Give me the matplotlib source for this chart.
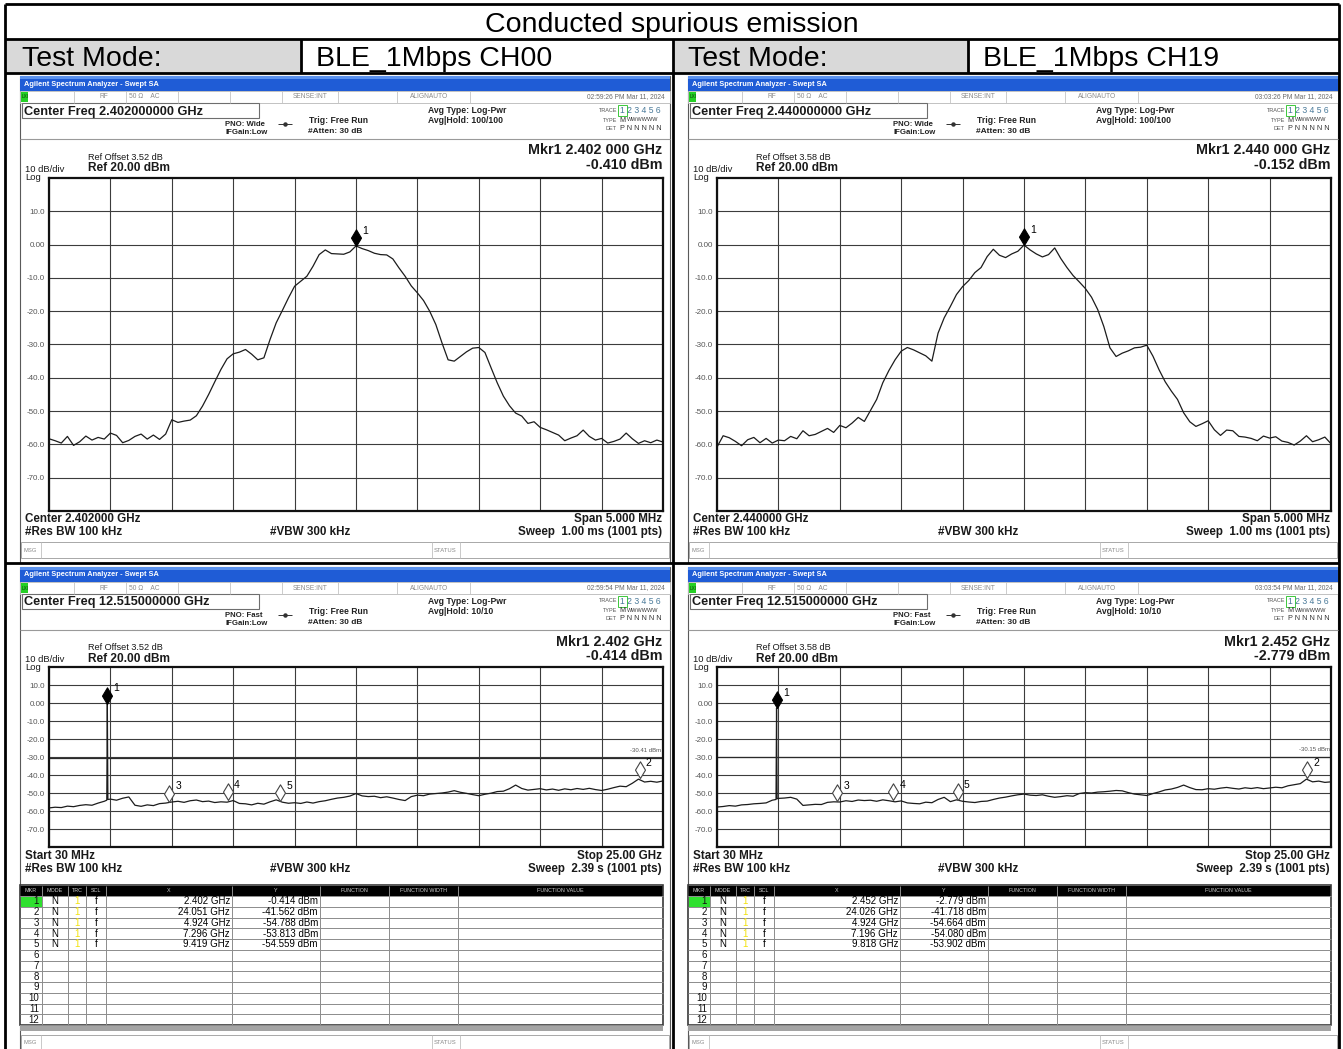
import numpy as np
import matplotlib.pyplot as plt
from matplotlib.patches import Rectangle
from matplotlib.path import Path

W, H = 1343, 1049
plt.rcParams['font.family'] = ['Liberation Sans', 'DejaVu Sans']

# --- measured traces -------------------------------------------------------
# zoomed sweeps: 5 MHz span, 101 points, level in dBm
ch00_zoom_dbm = [
    -58.3, -58.9, -59.6, -57.6, -60.3, -59.2, -57.5, -58.7, -57.9, -58.4,
    -56.6, -57.3, -59.5, -58.8, -57.6, -56.9, -58.4, -57.2, -58.5, -56.9,
    -52.6, -53.4, -53.0, -52.7, -51.4, -48.5, -45.0, -41.2, -37.5, -34.3,
    -32.8, -32.3, -31.5, -32.9, -34.6, -34.0, -28.5, -23.5, -19.8, -16.0,
    -12.5, -11.0, -9.5, -6.5, -3.0, -1.6, -2.7, -2.8, -2.9, -2.2,
    -0.41, -1.2, -1.8, -2.6, -3.0, -3.1, -4.3, -7.0, -9.5, -12.4,
    -14.5, -16.8, -20.0, -24.0, -29.5, -34.6, -35.0, -33.6, -32.2, -31.1,
    -30.9, -32.4, -37.0, -41.5, -45.5, -48.4, -50.6, -51.5, -53.7, -53.2,
    -54.9, -55.6, -56.4, -57.2, -58.9, -58.1, -57.4, -55.7, -57.6, -58.7,
    -58.2, -59.6, -59.1, -58.4, -56.6, -58.3, -59.7, -58.9, -59.5, -58.7,
    -59.3]
ch19_zoom_dbm = [
    -60.8, -57.4, -58.0, -59.1, -60.4, -58.6, -57.9, -59.5, -58.2, -59.6,
    -58.7, -58.9, -57.6, -58.3, -55.9, -57.4, -57.0, -56.1, -55.2, -56.4,
    -54.3, -55.0, -53.6, -51.9, -53.1, -49.8, -46.5, -41.5, -37.8, -34.6,
    -32.0, -30.9, -31.6, -32.5, -33.4, -35.0, -26.6, -22.0, -18.6, -15.0,
    -12.6, -10.8, -8.4, -6.9, -3.6, -1.4, -3.2, -3.9, -2.8, -2.0,
    -0.15, -1.6, -2.8, -3.7, -3.0, -1.0, -4.2, -6.9, -9.3, -11.2,
    -13.2, -15.8, -19.5, -24.6, -31.0, -33.6, -32.6, -31.9, -31.0, -30.8,
    -30.2, -33.5, -37.6, -41.2, -44.0, -46.5, -50.5, -53.2, -54.6, -53.8,
    -52.9, -55.6, -57.3, -55.7, -55.9, -57.6, -57.8, -58.2, -58.9, -57.5,
    -58.1, -57.7, -59.0, -59.4, -60.2, -59.0, -57.4, -59.2, -58.6, -57.8,
    -59.8]

# wide sweeps: 30 MHz .. 25 GHz, 101 points, level in dBm
ch00_wide_dbm = [
    -58.3, -57.9, -58.1, -57.3, -57.6, -56.9, -56.5, -56.8, -55.6, -54.6,
    -53.4, -54.0, -52.9, -52.2, -56.8, -57.4, -56.6, -57.0, -55.9, -55.6,
    -55.0, -54.6, -55.2, -54.3, -53.9, -54.8, -54.5, -55.3, -54.9, -55.1,
    -54.2, -55.8, -56.0, -56.6, -55.7, -56.2, -54.9, -53.8, -55.1, -55.7,
    -55.4, -55.8, -55.0, -55.6, -54.8, -54.3, -53.5, -52.8, -52.4, -51.7,
    -50.3, -51.6, -52.0, -51.8, -52.6, -52.1, -52.8, -53.6, -54.2, -52.0,
    -51.2, -51.5, -50.6, -50.3, -50.0, -49.5, -48.7, -49.6, -50.2, -50.9,
    -51.5, -50.7, -50.1, -49.2, -49.0, -47.6, -45.6, -47.5, -48.4, -48.0,
    -47.6, -48.3, -47.8, -48.5, -47.7, -48.2, -47.5, -48.0, -47.4, -48.1,
    -48.6, -47.9, -47.0, -46.2, -46.5, -44.6, -42.3, -43.9, -43.5, -44.0,
    -43.3]
ch19_wide_dbm = [
    -57.8, -57.5, -57.0, -57.3, -56.6, -56.4, -56.0, -55.8, -55.5, -54.0,
    -53.0, -52.8, -52.4, -53.4, -56.9, -56.6, -56.3, -56.4, -55.2, -54.9,
    -55.0, -54.3, -54.7, -53.9, -54.2, -54.0, -54.6, -53.8, -54.3, -54.9,
    -54.4, -55.5, -55.8, -56.0, -55.1, -55.4, -53.6, -52.4, -54.8, -53.8,
    -54.6, -55.0, -55.3, -54.7, -54.5, -53.6, -52.8, -52.3, -51.6, -51.0,
    -50.6, -51.2, -51.4, -51.0, -51.8, -52.4, -52.0, -51.5, -51.8, -50.3,
    -49.8, -50.0, -49.5, -49.3, -49.0, -48.6, -48.8, -49.8, -50.6, -51.0,
    -51.4, -50.3, -49.4, -48.3, -47.8, -46.9, -45.6, -47.0, -48.1, -48.2,
    -47.6, -47.9, -47.3, -46.9, -47.4, -47.8, -47.1, -47.5, -47.0, -47.6,
    -47.2, -46.8, -47.1, -46.0, -45.4, -44.8, -42.3, -43.8, -43.4, -44.1,
    -43.8]

# carrier spike on the wide sweeps (GHz, dBm)
ch00_spike_ghz = [2.380, 2.402, 2.425]
ch00_spike_dbm = [-54.0, -0.414, -53.6]
ch19_spike_ghz = [2.430, 2.452, 2.475]
ch19_spike_dbm = [-53.6, -2.779, -53.2]

# marker 1 on the zoomed sweeps
ch00_peak_dbm = -0.410
ch19_peak_dbm = -0.152

# marker tables of the wide sweeps
ch00_mkr_ghz = [2.402, 24.051, 4.924, 7.296, 9.419]
ch00_mkr_dbm = [-0.414, -41.562, -54.788, -53.813, -54.559]
ch19_mkr_ghz = [2.452, 24.026, 4.924, 7.196, 9.818]
ch19_mkr_dbm = [-2.779, -41.718, -54.664, -54.080, -53.902]

# -30 dBc display lines
ch00_dl = -30.41
ch19_dl = -30.15

level_ticks = [10, 0, -10, -20, -30, -40, -50, -60, -70]
level_labels = ['10.0', '0.00', '-10.0', '-20.0', '-30.0', '-40.0', '-50.0', '-60.0', '-70.0']

# --- canvas ---------------------------------------------------------------
fig = plt.figure(figsize=(W / 100, H / 100), dpi=100)
base = fig.add_axes([0, 0, 1, 1])
base.set_xlim(0, W)
base.set_ylim(H, 0)
base.axis('off')


def txt(x, y, s, size, ha='left', weight='normal', color='black', va='center'):
    base.text(x, y, s, fontsize=size, ha=ha, va=va, fontweight=weight, color=color)


def box(x0, y0, x1, y1, fc='none', ec='none', lw=1.0):
    base.add_patch(Rectangle((x0, y0), x1 - x0, y1 - y0, facecolor=fc,
                             edgecolor=ec, linewidth=lw))


def seg(x0, y0, x1, y1, color='black', lw=1.0):
    base.plot([x0, x1], [y0, y1], color=color, lw=lw, solid_capstyle='butt')


# marker glyph: diamond standing on its lower tip
DIAMOND = Path([(0, 0), (0.6, 1), (0, 2), (-0.6, 1), (0, 0)],
               [Path.MOVETO, Path.LINETO, Path.LINETO, Path.LINETO, Path.CLOSEPOLY])


def spectrum_axes(x0, y0, x1, y1, xlo, xhi):
    ax = fig.add_axes([x0 / W, 1 - y1 / H, (x1 - x0) / W, (y1 - y0) / H])
    ax.set_xlim(xlo, xhi)
    ax.set_ylim(-80, 20)
    ax.set_xticks(np.linspace(xlo, xhi, 11))
    ax.set_yticks(level_ticks)
    ax.set_yticklabels(level_labels)
    ax.tick_params(axis='x', length=0, labelbottom=False)
    ax.tick_params(axis='y', length=0, pad=3, labelsize=5.8, labelcolor='#555555')
    ax.grid(True, color='#3c3c3c', lw=0.8)
    ax.set_axisbelow(True)
    for sp in ax.spines.values():
        sp.set_linewidth(1.6)
        sp.set_color('#111111')
    return ax


def put_marker(ax, x, y, n, filled=True):
    ax.plot([x], [y], marker=DIAMOND, ms=24, ls='none', clip_on=False, zorder=6,
            mfc='black' if filled else 'white', mec='black' if filled else '#444444',
            mew=0.8)
    ax.annotate(str(n), (x, y), xytext=(4.5, 11), textcoords='offset points',
                fontsize=7.5, ha='left', va='center', zorder=7)


def header(ox, oy, clock, center, pno, hold, mkr_f, mkr_v, offset):
    # window title bar
    box(ox, oy, ox + 650, oy + 15, fc='#1f5cd6')
    box(ox, oy, ox + 650, oy + 3, fc='#5b92ee')
    txt(ox + 4, oy + 8, 'Agilent Spectrum Analyzer - Swept SA', 5.3, weight='bold', color='white')
    # status strip
    ys = oy + 21
    box(ox, oy + 15, ox + 650, oy + 27, fc='white', ec='#b8b8b8', lw=0.6)
    box(ox + 1, oy + 16, ox + 8, oy + 26, fc='#25d025')
    txt(ox + 1.5, ys, 'LXI', 3.3, color='#0b3a0b')
    for sx in (54, 106, 158, 210, 262, 318, 377, 450):
        seg(ox + sx, oy + 15, ox + sx, oy + 27, color='#c4c4c4', lw=0.6)
    txt(ox + 80, ys, 'RF', 4.8, color='#8a8a8a')
    txt(ox + 109, ys, '50 Ω    AC', 4.8, color='#8a8a8a')
    txt(ox + 290, ys, 'SENSE:INT', 4.8, ha='center', color='#8a8a8a')
    txt(ox + 409, ys, 'ALIGNAUTO', 4.8, ha='center', color='#8a8a8a')
    txt(ox + 645, ys, clock, 4.8, ha='right', color='#6a6a6a')
    # centre frequency entry
    box(ox + 2, oy + 27, ox + 239, oy + 42, fc='white', ec='#6e6e6e', lw=0.8)
    txt(ox + 4, oy + 35.5, 'Center Freq ' + center + ' GHz', 9.2, weight='bold', color='#1a1a1a')
    # acquisition settings
    txt(ox + 205, oy + 48.5, 'PNO: ' + pno, 5.6, weight='bold', color='#222222')
    seg(ox + 258, oy + 48, ox + 272, oy + 48, color='#333333', lw=0.7)
    base.plot([ox + 265], [oy + 48], marker='o', ms=2.2, color='#333333')
    txt(ox + 205, oy + 56.5, 'IFGain:Low', 5.6, weight='bold', color='#222222')
    txt(ox + 289, oy + 44.5, 'Trig: Free Run', 6.2, weight='bold', color='#222222')
    txt(ox + 288, oy + 55.5, '#Atten: 30 dB', 6.0, weight='bold', color='#222222')
    txt(ox + 408, oy + 34.5, 'Avg Type: Log-Pwr', 6.2, weight='bold', color='#222222')
    txt(ox + 408, oy + 44.5, 'Avg|Hold: ' + hold, 6.2, weight='bold', color='#222222')
    txt(ox + 597, oy + 34, 'TRACE', 4.0, ha='right', color='#555555')
    txt(ox + 597, oy + 44, 'TYPE', 4.0, ha='right', color='#555555')
    txt(ox + 597, oy + 52, 'DET', 4.0, ha='right', color='#555555')
    box(ox + 598, oy + 29, ox + 607, oy + 40, ec='#3cc83c', lw=0.7)
    txt(ox + 599.5, oy + 34.5, '1 2 3 4 5 6', 6.2, color='#4a7a9a')
    txt(ox + 599.5, oy + 44, 'M', 5.2, color='#333333')
    txt(ox + 606.5, oy + 43.5, 'WWWWWW', 4.0, color='#333333')
    txt(ox + 599.5, oy + 52, 'P N N N N N', 5.2, color='#333333')
    # measurement panel
    seg(ox, oy + 63, ox + 650, oy + 63, color='#9a9a9a', lw=0.8)
    txt(ox + 642, oy + 74.5, 'Mkr1 ' + mkr_f, 10.3, ha='right', weight='bold', color='#1a1a1a')
    txt(ox + 642, oy + 89, mkr_v, 10.3, ha='right', weight='bold', color='#1a1a1a')
    txt(ox + 68, oy + 81, 'Ref Offset ' + offset + ' dB', 6.6, color='#1a1a1a')
    txt(ox + 68, oy + 92, 'Ref 20.00 dBm', 8.6, weight='bold', color='#1a1a1a')
    txt(ox + 5, oy + 93, '10 dB/div', 6.8, color='#1a1a1a')
    txt(ox + 5, oy + 101, 'Log', 6.8, color='#1a1a1a')


def footer(ox, y, left1, right1, sweep):
    txt(ox + 5, y, left1, 8.4, weight='bold', color='#1a1a1a')
    txt(ox + 642, y, right1, 8.4, ha='right', weight='bold', color='#1a1a1a')
    txt(ox + 5, y + 13, '#Res BW 100 kHz', 8.4, weight='bold', color='#1a1a1a')
    txt(ox + 250, y + 13, '#VBW 300 kHz', 8.4, weight='bold', color='#1a1a1a')
    txt(ox + 642, y + 13, 'Sweep  ' + sweep + ' (1001 pts)', 8.4, ha='right', weight='bold', color='#1a1a1a')


def msg_bar(ox, y0, y1):
    box(ox + 1, y0, ox + 649, y1, fc='white', ec='#a8a8a8', lw=0.7)
    seg(ox + 21, y0, ox + 21, y1, color='#c0c0c0', lw=0.6)
    seg(ox + 412, y0, ox + 412, y1, color='#c0c0c0', lw=0.6)
    seg(ox + 440, y0, ox + 440, y1, color='#c0c0c0', lw=0.6)
    txt(ox + 4, (y0 + y1) / 2, 'MSG', 4.2, color='#888888')
    txt(ox + 414, (y0 + y1) / 2, 'STATUS', 4.2, color='#888888')


tbl_cols = [0, 22, 48, 66, 86, 212, 300, 369, 438, 643]
tbl_heads = ['MKR', 'MODE', 'TRC', 'SCL', 'X', 'Y', 'FUNCTION', 'FUNCTION WIDTH', 'FUNCTION VALUE']


def marker_table(ox, oy, xs, ys):
    top, head_h, row_h = oy + 319, 10, 10.75
    x_at = [ox + c for c in tbl_cols]
    body = top + head_h
    bottom = body + 12 * row_h
    box(x_at[0], top - 1, x_at[-1], bottom, fc='white')
    box(x_at[0], top, x_at[-1], body, fc='black')
    for i, name in enumerate(tbl_heads):
        txt((x_at[i] + x_at[i + 1]) / 2, top + head_h / 2, name, 3.9, ha='center', color='#cfcfcf')
    box(x_at[0] + 1, body + 0.5, x_at[1], body + row_h, fc='#2fe02f')
    for r in range(13):
        seg(x_at[0], body + r * row_h, x_at[-1], body + r * row_h, color='#8c8c8c', lw=0.7)
    for c in x_at[1:-1]:
        seg(c, top, c, bottom, color='#8c8c8c', lw=0.7)
    for r in range(12):
        yc = body + (r + 0.5) * row_h
        txt(x_at[0] + 19, yc, str(r + 1), 7, ha='right', color='#111111')
        if r < len(xs):
            txt((x_at[1] + x_at[2]) / 2, yc, 'N', 7, ha='center')
            txt((x_at[2] + x_at[3]) / 2, yc, '1', 7, ha='center', color='#f2e20a')
            txt((x_at[3] + x_at[4]) / 2, yc, 'f', 7, ha='center')
            txt(x_at[5] - 2, yc, f'{xs[r]:.3f} GHz', 7, ha='right')
            txt(x_at[6] - 2, yc, f'{ys[r]:.3f} dBm', 7, ha='right')
    box(x_at[0], top - 1, x_at[-1], bottom, ec='#3a3a3a', lw=1.2)
    box(x_at[0], bottom, x_at[-1], bottom + 6, fc='#a4a4a4')


# --- outer report table ------------------------------------------------------
box(0, 0, W, H, fc='white')
box(5, 39, 301, 73, fc='#d9d9d9')
box(673, 39, 968, 73, fc='#d9d9d9')
txt(672, 32.5, 'Conducted spurious emission', 20.5, ha='center', va='baseline')
txt(22, 66.5, 'Test Mode:', 20.5, va='baseline')
txt(316, 66.5, 'BLE_1Mbps CH00', 20.5, va='baseline')
txt(688, 66.5, 'Test Mode:', 20.5, va='baseline')
txt(983, 66.5, 'BLE_1Mbps CH19', 20.5, va='baseline')
for yy in (4, 39, 73, 563):
    seg(5, yy, 1339, yy, lw=2)
seg(5, 4, 5, H, lw=2)
seg(1339, 4, 1339, H, lw=2)
seg(673, 39, 673, H, lw=2)
seg(301, 39, 301, 73, lw=2)
seg(968, 39, 968, 73, lw=2)

# --- analyzer screens ---------------------------------------------------------
columns = [
    (20, '02:59:26 PM Mar 11, 2024', '02:59:54 PM Mar 11, 2024', '2.402000000', '2.402000',
     '3.52', '2.402 000 GHz', ch00_peak_dbm, ch00_zoom_dbm, ch00_wide_dbm,
     ch00_spike_ghz, ch00_spike_dbm, ch00_mkr_ghz, ch00_mkr_dbm, ch00_dl),
    (688, '03:03:26 PM Mar 11, 2024', '03:03:54 PM Mar 11, 2024', '2.440000000', '2.440000',
     '3.58', '2.440 000 GHz', ch19_peak_dbm, ch19_zoom_dbm, ch19_wide_dbm,
     ch19_spike_ghz, ch19_spike_dbm, ch19_mkr_ghz, ch19_mkr_dbm, ch19_dl),
]

zoom_mhz = np.linspace(-2.5, 2.5, len(ch00_zoom_dbm))
wide_ghz = np.linspace(0.03, 25.0, len(ch00_wide_dbm))

for (ox, clk1, clk2, cf, cf_short, offs, mkr_f, peak, zoom_dbm, wide_dbm,
     sp_f, sp_v, mk_f, mk_v, dl) in columns:
    # upper screen: 5 MHz span around the carrier
    oy = 76
    box(ox, oy, ox + 650, oy + 487, fc='white', ec='#5a5a5a', lw=0.8)
    header(ox, oy, clk1, cf, 'Wide', '100/100', mkr_f, f'{peak:.3f} dBm', offs)
    ax = spectrum_axes(ox + 29, oy + 102, ox + 643, oy + 435, -2.5, 2.5)
    ax.plot(zoom_mhz, zoom_dbm, color='#1c1c1c', lw=0.9)
    put_marker(ax, 0.0, peak, 1)
    footer(ox, oy + 443, 'Center ' + cf_short + ' GHz', 'Span 5.000 MHz', '1.00 ms')
    msg_bar(ox, oy + 466, oy + 482)

    # lower screen: 30 MHz .. 25 GHz
    oy = 567
    box(ox, oy, ox + 650, H + 2, fc='white', ec='#5a5a5a', lw=0.8)
    header(ox, oy, clk2, '12.515000000', 'Fast', '10/10', f'{mk_f[0]:.3f} GHz',
           f'{mk_v[0]:.3f} dBm', offs)
    ax = spectrum_axes(ox + 29, oy + 100, ox + 643, oy + 280, 0.03, 25.0)
    f = np.concatenate([wide_ghz, sp_f])
    v = np.concatenate([wide_dbm, sp_v])
    order = np.argsort(f)
    ax.plot(f[order], v[order], color='#1c1c1c', lw=0.9)
    ax.axhline(dl, color='#2a2a2a', lw=0.9)
    ax.annotate(f'{dl:.2f} dBm', (25.0, dl), xytext=(-1, 3.5), textcoords='offset points',
                fontsize=4.3, ha='right', va='bottom', color='#555555')
    for n, (mf, mv) in enumerate(zip(mk_f, mk_v), start=1):
        put_marker(ax, mf, mv, n, filled=(n == 1))
    footer(ox, oy + 289, 'Start 30 MHz', 'Stop 25.00 GHz', '2.39 s')
    marker_table(ox, oy, mk_f, mk_v)
    msg_bar(ox, oy + 468, oy + 484)

fig.savefig('out.png', dpi=100)
